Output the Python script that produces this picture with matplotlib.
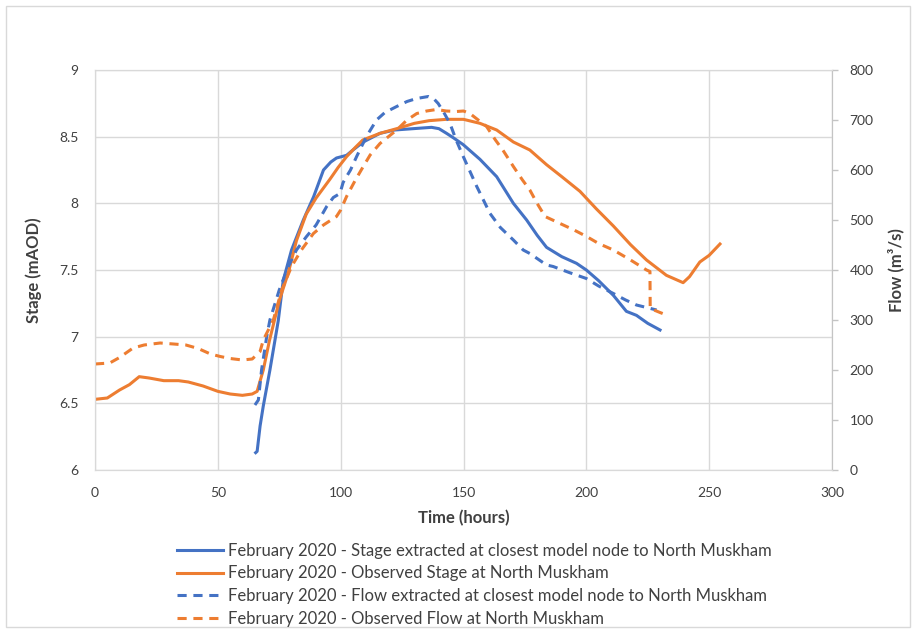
import matplotlib.pyplot as plt
from matplotlib.patches import Rectangle

plt.rcParams['font.family'] = ['Lato', 'DejaVu Sans']

# Observed stage at North Muskham (mAOD)
obs_stage_t = [0, 5, 10, 14, 18, 22, 28, 34, 38, 44, 50, 55, 60, 64, 66, 68.5, 71, 75, 78.7, 82,
               86, 90, 95.6, 99, 102.4, 106, 109, 116, 122.8, 130, 136, 143, 150, 156.7, 163.5,
               170.3, 177, 183.8, 190, 197.4, 204, 211, 218, 224.5, 232.6, 239.4, 242, 246.2, 250, 254.4]
obs_stage = [6.53, 6.54, 6.60, 6.64, 6.70, 6.69, 6.67, 6.67, 6.66, 6.63, 6.59, 6.57, 6.56, 6.57, 6.59,
             6.75, 6.97, 7.27, 7.48, 7.72, 7.92, 8.04, 8.18, 8.27, 8.35, 8.42, 8.475, 8.525, 8.56,
             8.60, 8.62, 8.63, 8.63, 8.60, 8.55, 8.46, 8.40, 8.29, 8.20, 8.09, 7.96, 7.83, 7.69,
             7.575, 7.46, 7.405, 7.45, 7.56, 7.61, 7.695]

# Stage extracted at closest model node (mAOD)
mod_stage_t = [65.4, 66, 67.2, 68.5, 71.2, 74.6, 76.6, 80, 84.8, 89, 93, 96, 98.3, 102.4, 105, 109.2,
               116, 122, 129.5, 137, 140, 143.1, 146, 149.9, 156.7, 163.5, 170.3, 175.7, 180, 183.8,
               190, 196, 200, 205, 211, 216.3, 220.4, 225, 230]
mod_stage = [6.13, 6.14, 6.33, 6.48, 6.75, 7.12, 7.42, 7.65, 7.875, 8.05, 8.25, 8.31, 8.34, 8.36, 8.40,
             8.46, 8.525, 8.55, 8.56, 8.57, 8.56, 8.525, 8.49, 8.44, 8.33, 8.20, 8.00, 7.875, 7.76,
             7.67, 7.60, 7.55, 7.50, 7.42, 7.31, 7.19, 7.16, 7.10, 7.05]

# Flow extracted at closest model node (m3/s)
mod_flow_t = [65.1, 66.5, 67.8, 69.9, 71.2, 75, 78.7, 82, 86.1, 90, 94.3, 97, 99.7, 101, 102.4, 104,
              106.5, 110.5, 114.6, 118, 122.8, 127, 130.9, 135.7, 138, 139.7, 142, 144.5, 147, 149.9,
              155.4, 160.8, 165, 170.3, 174.3, 177, 183.8, 186.5, 193, 200, 205, 211, 216, 220.4, 228.6]
mod_flow = [130, 140, 200, 267, 300, 360, 407, 440, 467, 490, 527, 545, 553, 575, 587, 600, 627, 667,
            700, 715, 727, 737, 743, 747, 742, 733, 715, 693, 660, 627, 567, 513, 485, 460, 440, 433,
            410, 407, 395, 383, 368, 353, 340, 330, 320]

# Observed flow at North Muskham (m3/s)
obs_flow_t = [0, 6, 10, 15.5, 20, 26.5, 32, 37, 42, 47, 51, 55, 60, 64, 67.2, 68.5, 72.6, 76, 80, 84,
              88.9, 93, 98.3, 100, 102.4, 106, 109.2, 112, 116, 122.8, 127, 131, 135, 139, 143, 147.2,
              150, 152.6, 156, 159.4, 163, 166, 170.3, 174, 177, 180, 183.2, 189.3, 195, 200.1, 205,
              211, 218, 224.5, 225.9, 226.0, 230, 232.6]
obs_flow = [212, 214, 225, 244, 250, 254, 252, 250, 243, 232, 227, 223, 220, 222, 237, 260, 300, 360,
            407, 440, 473, 490, 507, 520, 547, 580, 607, 630, 653, 680, 700, 713, 718, 721, 718, 717,
            718, 713, 700, 687, 660, 640, 607, 580, 560, 533, 507, 493, 480, 467, 453, 440, 420, 400,
            397, 323, 315, 310]

labels = ['February 2020 - Stage extracted at closest model node to North Muskham',
          'February 2020 - Observed Stage at North Muskham',
          'February 2020 - Flow extracted at closest model node to North Muskham',
          'February 2020 - Observed Flow at North Muskham']

blue = '#4472C4'
orange = '#ED7D31'
grid_c = '#D9D9D9'
axis_c = '#C4C4C4'
txt_c = '#404040'

fig = plt.figure(figsize=(9.16, 6.33), dpi=100)
ax = fig.add_axes([95 / 916, 1 - 470 / 633, (832 - 95) / 916, 400 / 633])
ax2 = ax.twinx()

l1, = ax.plot(mod_stage_t, mod_stage, color=blue, lw=2.2, label=labels[0])
l2, = ax.plot(obs_stage_t, obs_stage, color=orange, lw=2.2, label=labels[1])
l3, = ax2.plot(mod_flow_t, mod_flow, color=blue, lw=2.2, ls=(0, (3, 2.2)), label=labels[2])
l4, = ax2.plot(obs_flow_t, obs_flow, color=orange, lw=2.2, ls=(0, (3, 2.2)), label=labels[3])

ax.set_xlim(0, 300)
ax.set_ylim(6, 9)
ax2.set_ylim(0, 800)
ax.set_xticks(range(0, 301, 50))
ax.set_yticks([6, 6.5, 7, 7.5, 8, 8.5, 9])
ax.set_yticklabels(['6', '6.5', '7', '7.5', '8', '8.5', '9'])
ax2.set_yticks(range(0, 801, 100))

ax.grid(True, color=grid_c, lw=1)
ax.set_axisbelow(True)
for a in (ax, ax2):
    for s in a.spines.values():
        s.set_color(grid_c)
ax2.spines['right'].set_color(axis_c)
ax.tick_params(length=0, labelsize=10, colors=txt_c)
ax.tick_params(axis='y', pad=12)
ax.tick_params(axis='x', pad=12)
ax2.tick_params(axis='y', length=4.5, width=1, color=axis_c, direction='out',
                labelsize=10, labelcolor=txt_c, pad=8)

ax.set_xlabel('Time (hours)', fontsize=12, fontweight='bold', color=txt_c, labelpad=8)
ax.set_ylabel('Stage (mAOD)', fontsize=12, fontweight='bold', color=txt_c, labelpad=12)
ax2.set_ylabel('Flow (m³/s)', fontsize=12, fontweight='bold', color=txt_c, labelpad=10)

fig.legend(handles=[l1, l2, l3, l4], loc='upper left', bbox_to_anchor=(170 / 916, 1 - 536 / 633),
           frameon=False, fontsize=12, handlelength=2.8, labelspacing=0.4, handletextpad=0.3,
           labelcolor=txt_c, borderaxespad=0)

fig.patches.append(Rectangle((6 / 916, 6 / 633), 904 / 916, 621 / 633, transform=fig.transFigure,
                             fill=False, edgecolor=grid_c, lw=1))

fig.savefig('out.png', dpi=100)
